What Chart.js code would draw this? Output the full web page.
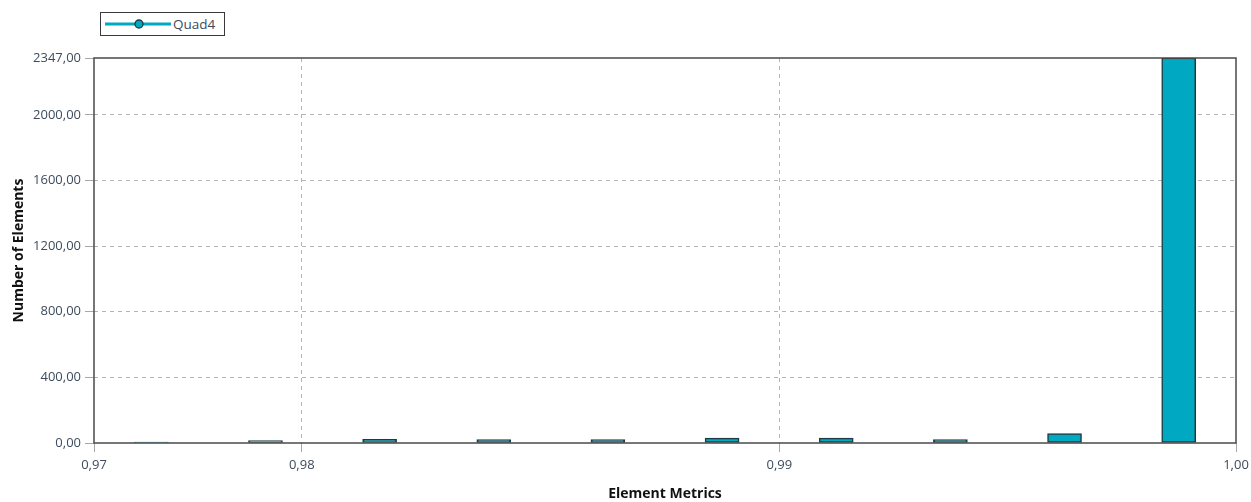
<!DOCTYPE html>
<html>
<head>
<meta charset="utf-8">
<script src="https://cdn.jsdelivr.net/npm/chart.js@4.4.1/dist/chart.umd.min.js"></script>
<style>
  html, body { margin: 0; padding: 0; background: #ffffff; }
  #wrap { position: relative; width: 1251px; height: 502px; }
  #chart { position: absolute; left: 0; top: 0; }
  .legend {
    position: absolute; left: 100px; top: 12px; width: 125px; height: 24px;
    border: 1px solid #3a3a3a; background: #fff; box-sizing: border-box;
    font-family: "Open Sans", "Noto Sans", sans-serif; font-size: 13.5px; color: #3d4b5c;
  }
  .legend svg { position: absolute; left: 4px; top: 4px; }
  .legend span { position: absolute; left: 72px; top: 2px; }
</style>
</head>
<body>
<div id="wrap">
  <canvas id="chart" width="1251" height="502"></canvas>
  <div class="legend">
    <svg width="66" height="14" viewBox="0 0 66 14">
      <line x1="0" y1="7" x2="66" y2="7" stroke="#00a9c1" stroke-width="3"/>
      <circle cx="34" cy="7" r="4" fill="#00a9c1" stroke="#1e3b44" stroke-width="1.3"/>
    </svg>
    <span>Quad4</span>
  </div>
</div>
<script>
// Histogram of Quad4 element quality: bin centres and element counts
const seriesName = 'Quad4';
const binCenters = [0.97685, 0.97924, 0.98163, 0.98402, 0.98641, 0.98880, 0.99119, 0.99358, 0.99597, 0.99836];
const elementCounts = [5, 14, 22, 21, 21, 30, 30, 21, 58, 2347];

// Axis extent and tick labels
const xMin = 0.97565;
const xMax = 0.99956;
const xTickValues = [0.97565, 0.98, 0.99, 0.99956];
const xTickLabels = ['0,97', '0,98', '0,99', '1,00'];
const yMax = 2347;
const yTickValues = [0, 400, 800, 1200, 1600, 2000, 2347];

const FONT = '"Open Sans", "Noto Sans", sans-serif';
const TICK_COLOR = '#3d4b5c';

// Frame around the plot area
const frame = {
  id: 'frame',
  afterDraw(chart) {
    const a = chart.chartArea, c = chart.ctx;
    c.save();
    c.strokeStyle = '#4a4a4a';
    c.lineWidth = 1.5;
    c.strokeRect(a.left, a.top, a.right - a.left, a.bottom - a.top);
    c.restore();
  }
};

const edgeAware = (ctx) => {
  const v = ctx.tick && ctx.tick.value;
  return (v === 0 || v === yMax || v === xMin || v === xMax) ? 'rgba(0,0,0,0)' : '#b4b4b4';
};

new Chart(document.getElementById('chart'), {
  type: 'bar',
  data: {
    datasets: [{
      label: seriesName,
      data: binCenters.map((x, i) => ({ x, y: elementCounts[i] })),
      backgroundColor: '#00a9c1',
      borderColor: '#1e3b44',
      borderWidth: 1.5,
      borderSkipped: false,
      barThickness: 34
    }]
  },
  plugins: [frame],
  options: {
    responsive: false,
    animation: false,
    events: [],
    layout: { padding: { top: 58, right: 15, left: 0, bottom: 0 } },
    plugins: { legend: { display: false }, tooltip: { enabled: false } },
    scales: {
      x: {
        type: 'linear',
        min: xMin,
        max: xMax,
        offset: false,
        afterBuildTicks(scale) { scale.ticks = xTickValues.map(v => ({ value: v })); },
        afterFit(scale) {
          scale.height = 59;
          scale.paddingLeft = 0;
          scale.paddingRight = 0;
        },
        ticks: {
          autoSkip: false,
          maxRotation: 0,
          padding: 5,
          color: TICK_COLOR,
          font: { family: FONT, size: 13 },
          callback: (v, i) => xTickLabels[i]
        },
        grid: {
          offset: false,
          color: edgeAware,
          tickColor: '#a8a8a8',
          tickLength: 9,
          lineWidth: 1
        },
        border: { display: false, dash: [4, 4] },
        title: {
          display: true,
          text: 'Element Metrics',
          color: '#111',
          font: { family: FONT, size: 14, weight: 'bold' },
          padding: { top: 0, bottom: 0 }
        }
      },
      y: {
        min: 0,
        max: yMax,
        afterBuildTicks(scale) { scale.ticks = yTickValues.map(v => ({ value: v })); },
        afterFit(scale) {
          scale.width = 94;
          scale.paddingTop = 0;
          scale.paddingBottom = 0;
        },
        ticks: {
          autoSkip: false,
          padding: 4,
          color: TICK_COLOR,
          font: { family: FONT, size: 13 },
          callback: (v) => Number(v).toFixed(2).replace('.', ',')
        },
        grid: {
          color: edgeAware,
          tickColor: '#a8a8a8',
          tickLength: 9,
          lineWidth: 1
        },
        border: { display: false, dash: [4, 4] },
        title: {
          display: true,
          text: 'Number of Elements',
          color: '#111',
          font: { family: FONT, size: 14, weight: 'bold' },
          padding: { top: 11, bottom: 0 }
        }
      }
    }
  }
});
</script>
</body>
</html>
